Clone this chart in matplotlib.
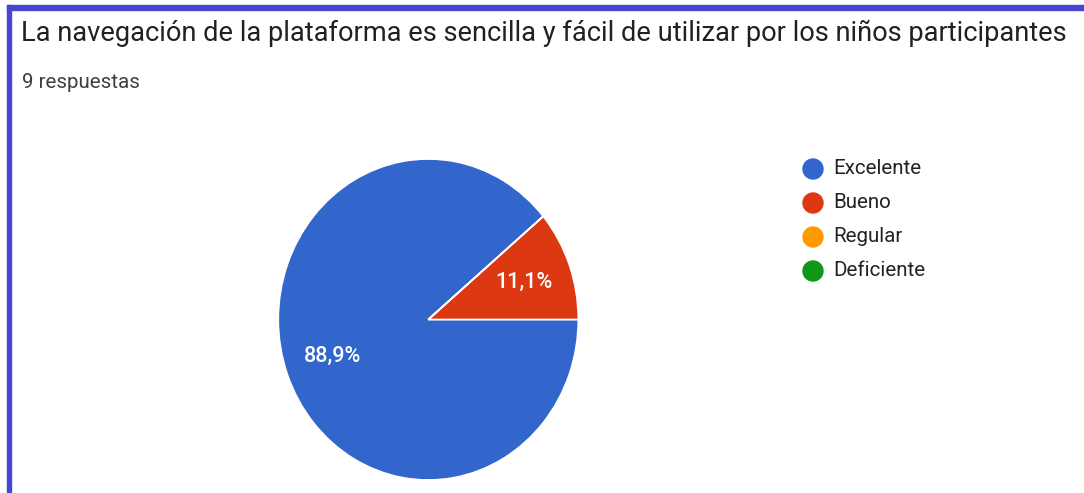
import matplotlib.pyplot as plt
from matplotlib.patches import Rectangle, Ellipse

# survey answers
categories = ["Excelente", "Bueno", "Regular", "Deficiente"]
counts = [8, 1, 0, 0]
colors = ["#3366CC", "#DC3912", "#FF9900", "#109618"]
title = "La navegación de la plataforma es sencilla y fácil de utilizar por los niños participantes"
subtitle = "9 respuestas"

W, H = 1084, 493
plt.rcParams['font.family'] = ['Roboto', 'DejaVu Sans']

fig = plt.figure(figsize=(W / 100, H / 100), dpi=100)
fig.patch.set_facecolor("white")


def px(x, y):
    # pixel coords (origin top-left) -> figure fraction
    return x / W, 1 - y / H


# frame around the card: top and left edges
border = "#4646D2"
fig.patches.append(Rectangle(px(7, 10), (W - 7) / W, 5 / H, transform=fig.transFigure,
                             color=border, zorder=5))
fig.patches.append(Rectangle(px(7, H), 4 / W, (H - 5) / H, transform=fig.transFigure,
                             color=border, zorder=5))

fig.text(*px(21, 33), title, fontsize=19.6, color="#202124", va="center", ha="left")
fig.text(*px(22, 82), subtitle, fontsize=14.8, color="#3c4043", va="center", ha="left")

# pie area (drawn slightly taller than wide)
cx, cy, rx, ry = 428.3, 319.5, 150, 160.5
ax = fig.add_axes([(cx - rx) / W, 1 - (cy + ry) / H, 2 * rx / W, 2 * ry / H])


def pct_label(p):
    if p < 0.5:
        return ""
    return f"{p:.1f}%".replace(".", ",")


wedges, texts, autotexts = ax.pie(
    counts, colors=colors, startangle=40, counterclock=True,
    autopct=pct_label, pctdistance=0.68,
    wedgeprops=dict(edgecolor="white", linewidth=1.2),
    textprops=dict(color="white", fontsize=15.5, fontweight="medium"),
)
ax.set_aspect("auto")
ax.set_xlim(-1, 1)
ax.set_ylim(-1, 1)

# legend: circle markers + labels
lax = fig.add_axes([0, 0, 1, 1], facecolor="none")
lax.set_xlim(0, W)
lax.set_ylim(H, 0)
lax.axis("off")
for i, (name, col) in enumerate(zip(categories, colors)):
    y = 169 + i * 34
    lax.add_patch(Ellipse((813, y), 20, 20, color=col))
    lax.text(833, y, name, fontsize=14.8, color="#222222", va="center", ha="left")

fig.savefig("out.png", dpi=100, facecolor="white")
